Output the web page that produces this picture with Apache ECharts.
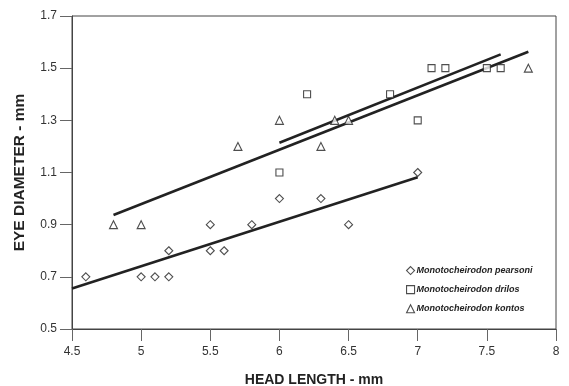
<!DOCTYPE html>
<html>
<head>
<meta charset="utf-8">
<script src="https://cdn.jsdelivr.net/npm/echarts@6/dist/echarts.min.js"></script>
<style>
  html, body { margin: 0; padding: 0; background: #fff; }
  #chart { width: 569px; height: 386px; }
</style>
</head>
<body>
<div id="chart"></div>
<script>
// measured points, [head length, eye diameter]
const pearsoni = [
  [4.6, 0.7], [5.0, 0.7], [5.1, 0.7], [5.2, 0.7], [5.2, 0.8], [5.5, 0.8],
  [5.5, 0.9], [5.6, 0.8], [5.8, 0.9], [6.0, 1.0], [6.3, 1.0], [6.5, 0.9], [7.0, 1.1]
]
const drilos = [
  [6.0, 1.1], [6.2, 1.4], [6.8, 1.4], [7.0, 1.3], [7.1, 1.5], [7.2, 1.5], [7.5, 1.5], [7.6, 1.5]
]
const kontos = [
  [4.8, 0.9], [5.0, 0.9], [5.7, 1.2], [6.0, 1.3], [6.3, 1.2], [6.4, 1.3], [6.5, 1.3], [7.8, 1.5]
]

// fitted lines (end points)
const pearsoniFit = [[4.5, 0.655], [7.0, 1.082]]
const drilosFit = [[6.0, 1.214], [7.6, 1.553]]
const kontosFit = [[4.8, 0.937], [7.8, 1.563]]

const yTicks = [0.5, 0.7, 0.9, 1.1, 1.3, 1.5, 1.7]

const names = [
  'Monotocheirodon pearsoni',
  'Monotocheirodon drilos',
  'Monotocheirodon kontos',
]

const ink = '#222'
const font = 'Liberation Sans, Arial, sans-serif'

function scatter(name, symbol, size, data) {
  return {
    name,
    type: 'scatter',
    symbol,
    symbolSize: size,
    data,
    itemStyle: { color: '#fff', borderColor: ink, borderWidth: 1.1 },
    emphasis: { disabled: true },
    z: 3,
  }
}

function fitLine(data) {
  return {
    type: 'line',
    data,
    showSymbol: false,
    symbol: 'none',
    silent: true,
    lineStyle: { color: ink, width: 2.6 },
    z: 2,
  }
}

const chart = echarts.init(document.getElementById('chart'))

chart.setOption({
  animation: false,
  backgroundColor: '#fff',
  textStyle: { fontFamily: font },
  grid: {
    left: 72,
    right: 13,
    top: 16,
    bottom: 57,
    outerBoundsMode: 'none',
    containLabel: false,
    show: true,
    borderColor: '#444',
    borderWidth: 1,
  },
  legend: {
    data: names,
    orient: 'vertical',
    left: 406,
    top: 266,
    padding: 0,
    itemWidth: 8,
    itemHeight: 8,
    itemGap: 10,
    itemStyle: { borderWidth: 1.1 },
    textStyle: { fontFamily: font, fontSize: 9, fontStyle: 'italic', fontWeight: 'bold', color: ink, padding: [0, 0, 0, -3] },
  },
  xAxis: {
    type: 'value',
    min: 4.5,
    max: 8,
    interval: 0.5,
    name: 'HEAD LENGTH - mm',
    nameLocation: 'middle',
    nameGap: 44,
    nameTextStyle: { fontFamily: font, fontSize: 14, fontWeight: 'bold', color: ink },
    splitLine: { show: false },
    axisLine: { lineStyle: { color: '#444', width: 1 } },
    axisTick: { length: 12, lineStyle: { color: '#666' } },
    axisLabel: { color: '#333', fontSize: 12, margin: 17 },
  },
  yAxis: {
    type: 'value',
    min: 0.5,
    max: 1.7,
    name: 'EYE DIAMETER - mm',
    nameLocation: 'middle',
    nameRotate: 90,
    nameGap: 44,
    nameTextStyle: { fontFamily: font, fontSize: 15.5, fontWeight: 'bold', color: ink },
    splitLine: { show: false },
    axisLine: { show: true, lineStyle: { color: '#444', width: 1 } },
    axisTick: { show: true, length: 12, customValues: yTicks, lineStyle: { color: '#666' } },
    axisLabel: { color: '#333', fontSize: 12, margin: 15, customValues: yTicks, formatter: v => v.toFixed(1) },
  },
  series: [
    scatter(names[0], 'diamond', 8, pearsoni),
    scatter(names[1], 'rect', 7, drilos),
    scatter(names[2], 'triangle', 8, kontos),
    fitLine(pearsoniFit),
    fitLine(drilosFit),
    fitLine(kontosFit),
  ],
})
</script>
</body>
</html>
